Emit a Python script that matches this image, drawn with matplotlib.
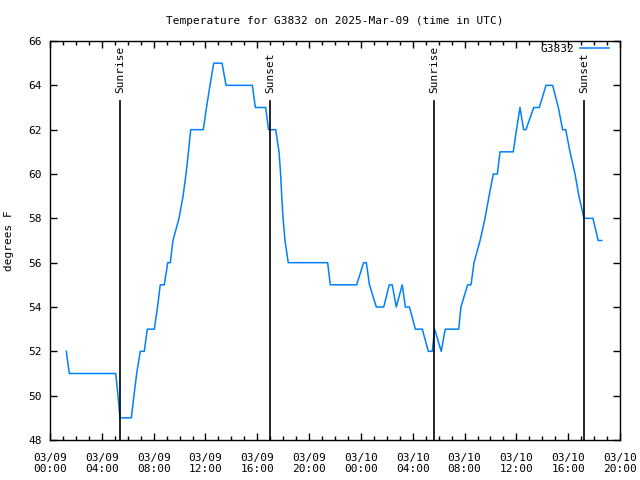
import matplotlib
matplotlib.use("Agg")
import matplotlib.pyplot as plt
from matplotlib.ticker import MultipleLocator

# hours since 2025-03-09 00:00 UTC
hours = [1.26, 1.49, 5.07, 5.25, 5.40, 6.28, 6.48, 6.69, 6.97, 7.28, 7.51, 8.05, 8.30, 8.51,
         8.82, 9.09, 9.29, 9.49, 9.96, 10.27, 10.50, 10.69, 10.86, 11.83, 12.08, 12.35, 12.64,
         13.28, 13.59, 15.62, 15.85, 16.65, 16.87, 17.42, 17.68, 17.80, 17.89, 17.99, 18.14,
         18.39, 21.43, 21.64, 23.67, 24.21, 24.42, 24.66, 25.19, 25.76, 26.19, 26.42, 26.73,
         27.19, 27.43, 27.75, 28.20, 28.74, 29.20, 29.51, 29.69, 30.20, 30.51, 31.55, 31.72,
         32.24, 32.50, 32.73, 33.20, 33.58, 33.89, 34.22, 34.53, 34.74, 35.76, 36.01, 36.28,
         36.56, 36.74, 37.34, 37.77, 38.29, 38.80, 39.24, 39.57, 39.81, 40.14, 40.53, 40.83,
         41.22, 41.91, 42.32, 42.59]
temps = [52, 51, 51, 50, 49, 49, 50, 51, 52, 52, 53, 53, 54, 55,
         55, 56, 56, 57, 58, 59, 60, 61, 62, 62, 63, 64, 65,
         65, 64, 64, 63, 63, 62, 62, 61, 60, 59, 58, 57,
         56, 56, 55, 55, 56, 56, 55, 54, 54, 55, 55, 54,
         55, 54, 54, 53, 53, 52, 52, 53, 52, 53, 53, 54,
         55, 55, 56, 57, 58, 59, 60, 60, 61, 61, 62, 63,
         62, 62, 63, 63, 64, 64, 63, 62, 62, 61, 60, 59,
         58, 58, 57, 57]

event_hours = [5.40, 16.98, 29.64, 41.22]
event_labels = ["Sunrise", "Sunset", "Sunrise", "Sunset"]

xtick_hours = [0, 4, 8, 12, 16, 20, 24, 28, 32, 36, 40, 44]
xtick_labels = ["03/09\n00:00", "03/09\n04:00", "03/09\n08:00", "03/09\n12:00",
                "03/09\n16:00", "03/09\n20:00", "03/10\n00:00", "03/10\n04:00",
                "03/10\n08:00", "03/10\n12:00", "03/10\n16:00", "03/10\n20:00"]
yticks = [48, 50, 52, 54, 56, 58, 60, 62, 64, 66]

plt.rcParams['font.family'] = ['DejaVu Sans Mono']
fig = plt.figure(figsize=(6.4, 4.8), dpi=100)
ax = fig.add_axes([50/640, 40/480, 570/640, 399/480])

ax.plot(hours, temps, color='#0080ff', lw=1.1, label='G3832')
for h, lab in zip(event_hours, event_labels):
    ax.plot([h, h], [48, 63.3], color='black', lw=1.2)
    ax.text(h, 63.65, lab, rotation=90, ha='center', va='bottom', fontsize=8)

ax.set_xlim(0, 44)
ax.set_ylim(48, 66)
ax.set_xticks(xtick_hours)
ax.set_xticklabels(xtick_labels, fontsize=8)
ax.xaxis.set_minor_locator(MultipleLocator(1))
ax.set_yticks(yticks)
ax.set_yticklabels([str(v) for v in yticks], fontsize=8)
ax.tick_params(axis='both', which='major', direction='in', length=5, width=1,
               top=True, right=True, pad=6)
ax.tick_params(axis='x', which='major', pad=9)
ax.tick_params(axis='x', which='minor', direction='in', length=3, width=1, top=True)
for s in ax.spines.values():
    s.set_linewidth(1)

ax.set_ylabel('degrees F', fontsize=8, labelpad=10)
ax.set_title('Temperature for G3832 on 2025-Mar-09 (time in UTC)', fontsize=8, pad=12)

leg = ax.legend(loc='upper right', bbox_to_anchor=(1 - 4/570, 1 + 4/399),
                frameon=False, fontsize=8, handlelength=2.6,
                markerfirst=False, borderaxespad=0.2, handletextpad=0.6)

fig.savefig('out.png', dpi=100)
